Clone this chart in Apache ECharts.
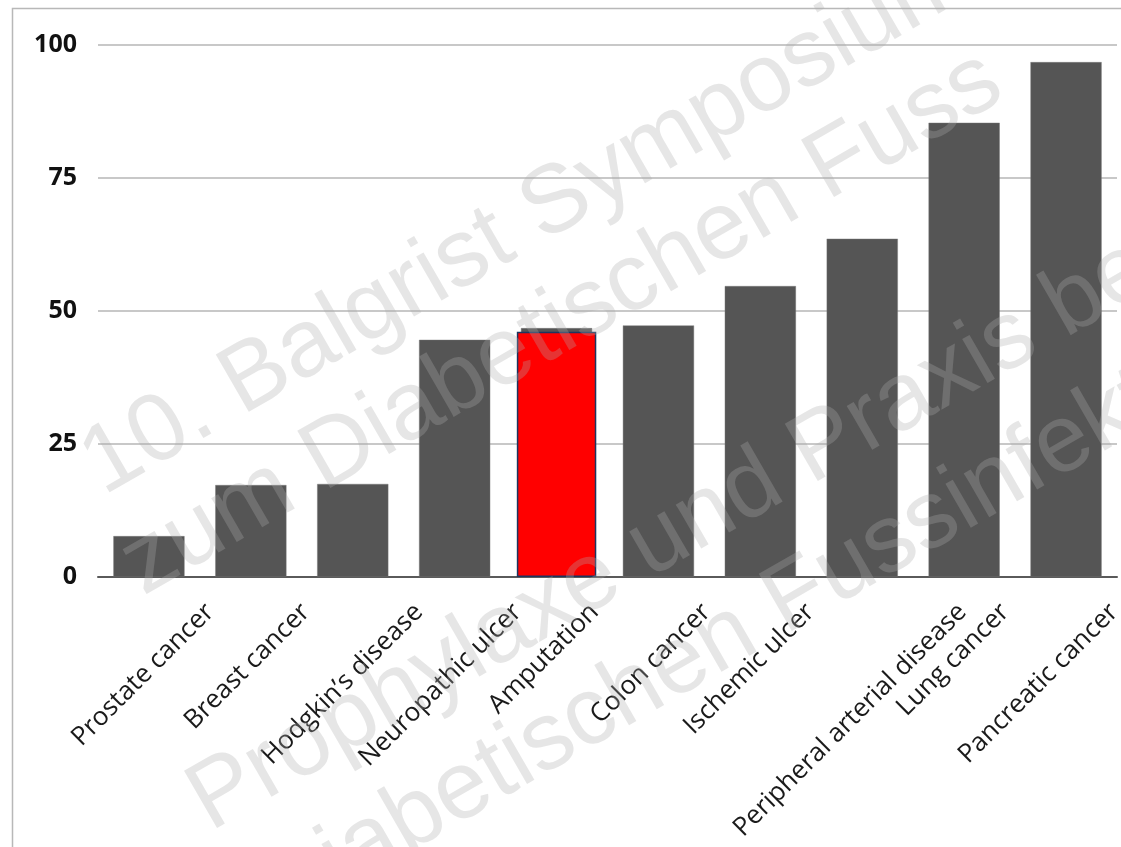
<!DOCTYPE html>
<html>
<head>
<meta charset="utf-8">
<script src="https://cdn.jsdelivr.net/npm/echarts@6/dist/echarts.min.js"></script>
<style>
  html, body { margin: 0; padding: 0; background: #ffffff; }
  #chart { width: 1121px; height: 847px; }
</style>
</head>
<body>
<div id="chart"></div>
<script>
// Five-year mortality (%) by condition
const categories = [
  'Prostate cancer', 'Breast cancer', 'Hodgkin\u2019s disease', 'Neuropathic ulcer',
  'Amputation', 'Colon cancer', 'Ischemic ulcer', 'Peripheral arterial disease',
  'Lung cancer', 'Pancreatic cancer'
];
const mortality = [7.7, 17.3, 17.5, 44.6, 46.8, 47.3, 54.7, 63.6, 85.4, 96.8];
// Amputation emphasised in red on top of its grey bar
const highlighted = ['-', '-', '-', '-', 46.1, '-', '-', '-', '-', '-'];
const yTicks = [0, 25, 50, 75, 100];
const watermarkLines = [
  '10. Balgrist Symposium',
  'zum Diabetischen Fuss',
  'Prophylaxe und Praxis bei',
  'Diabetischen Fussinfekten'
];

// layout / styling helpers (not data)
// sideways nudge of each slanted category name under its bar, in px
const labelNudge = [61, 55, 66, 63, 38, 48, 50, 100, 41, 48];
// left-middle anchors of the diagonal watermark lines
const watermarkAnchors = [[90, 473], [130, 573], [197, 809], [268, 903]];

const chart = echarts.init(document.getElementById('chart'), null, { renderer: 'canvas' });

const labelFont = '"Open Sans", "DejaVu Sans", sans-serif';

// grey bars carry the slanted category names below the baseline;
// the label offset lives in the label's rotated frame, so a purely
// sideways move of n px is (n / sqrt2, n / sqrt2) there
const barItems = mortality.map(function (v, i) {
  const d = labelNudge[i] / Math.SQRT2;
  return { value: v, label: { offset: [d, d] } };
});

const option = {
  animation: false,
  backgroundColor: '#ffffff',
  grid: {
    left: 98, right: 4, top: 45, bottom: 270,
    containLabel: false,
    outerBoundsMode: 'none'
  },
  xAxis: [
    {
      type: 'category',
      data: categories,
      axisLine: { show: true, lineStyle: { color: '#5a5a5a', width: 2 } },
      axisTick: { show: false },
      splitLine: { show: false },
      axisLabel: { show: false }
    },
    {
      type: 'category',
      data: categories,
      show: false
    }
  ],
  yAxis: {
    type: 'value',
    min: yTicks[0],
    max: yTicks[yTicks.length - 1],
    interval: yTicks[1] - yTicks[0],
    axisLine: { show: false },
    axisTick: { show: false },
    splitLine: { show: true, lineStyle: { color: '#c8c8c8', width: 2 } },
    axisLabel: {
      margin: 21,
      fontFamily: labelFont,
      fontWeight: 'bold',
      fontSize: 25,
      color: '#111111'
    }
  },
  series: [
    {
      type: 'bar',
      data: barItems,
      barWidth: '70%',
      itemStyle: { color: '#555555', borderColor: 'rgba(120,120,120,0.7)', borderWidth: 0.6 },
      label: {
        show: true,
        position: 'bottom',
        distance: 31,
        formatter: '{b}',
        rotate: 45,
        align: 'right',
        verticalAlign: 'middle',
        fontFamily: labelFont,
        fontSize: 26,
        color: '#1a1a1a'
      }
    },
    {
      type: 'bar',
      xAxisIndex: 1,
      data: highlighted,
      barWidth: '78%',
      itemStyle: { color: '#ff0000', borderColor: '#1c3560', borderWidth: 1.5 }
    }
  ],
  graphic: [
    {
      type: 'rect',
      silent: true,
      z: 0,
      shape: { x: 12.5, y: 8.5, width: 1300, height: 1000 },
      style: { fill: 'none', stroke: '#b8b8b8', lineWidth: 1.5 }
    }
  ].concat(watermarkLines.map(function (line, i) {
    return {
      type: 'text',
      silent: true,
      z: 100,
      x: watermarkAnchors[i][0],
      y: watermarkAnchors[i][1],
      rotation: Math.PI / 6,
      style: {
        text: line,
        font: '96px "Liberation Sans", Arial, sans-serif',
        fill: 'rgba(173,173,173,0.3)',
        align: 'left',
        verticalAlign: 'middle'
      }
    };
  }))
};

chart.setOption(option);
</script>
</body>
</html>
